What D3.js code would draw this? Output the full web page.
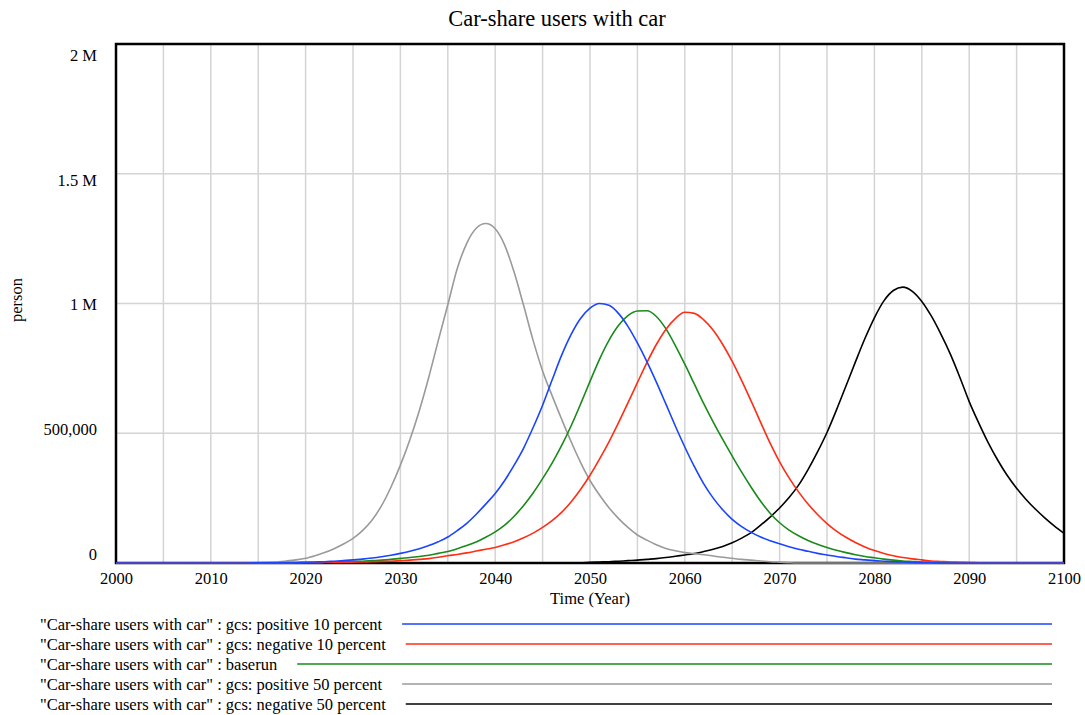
<!DOCTYPE html>
<html>
<head>
  <meta charset="utf-8" />
  <title>Car-share users with car</title>
  <script src="https://d3js.org/d3.v7.min.js"></script>
  <style>
    body { margin: 0; background: #fff; }
    svg text { font-family: "Liberation Serif", "Times New Roman", serif; fill: #000; }
  </style>
</head>
<body>
  <div id="chart"></div>

  <script>
    // years on the time axis (one value per year)
    const years = d3.range(2000, 2101);

    // values in thousand persons, 2000 .. 2100
    const positive10 = [
      0,0,0,0,0,0,0,0,0,0,
      0,0,0,0,0,1,1,1,2,2,
      3,4,5,7,9,12,15,19,24,30,
      37,45,55,67,82,100,125,153,188,227,
      268,318,377,443,522,608,705,800,880,942,
      982,1000,993,962,912,848,776,697,613,528,
      447,372,305,250,205,168,140,118,100,86,
      74,63,53,45,37,31,25,20,15,12,
      9,7,5,4,2,1,1,0,0,0,
      0,0,0,0,0,0,0,0,0,0,0
    ];
    const negative10 = [
      0,0,0,0,0,0,0,0,0,0,
      0,0,0,0,0,0,0,0,0,1,
      1,1,2,2,3,3,4,5,6,7,
      9,11,14,17,22,28,33,39,46,53,
      60,70,82,97,115,137,163,195,235,283,
      338,400,467,540,617,695,772,842,900,942,
      966,962,937,897,842,777,703,624,542,462,
      390,328,274,227,187,152,123,99,79,62,
      48,37,28,21,16,12,8,6,4,3,
      2,1,0,0,0,0,0,0,0,0,0
    ];
    const baserun = [
      0,0,0,0,0,0,0,0,0,0,
      0,0,0,0,0,0,0,0,1,1,
      2,2,3,4,5,6,7,9,11,14,
      18,21,25,30,37,44,55,67,81,99,
      120,146,180,222,270,325,385,452,528,612,
      700,785,858,915,953,971,972,950,903,838,
      766,690,614,543,476,412,350,292,238,192,
      155,127,105,87,72,60,49,40,32,25,
      20,15,11,8,6,4,3,2,1,1,
      0,0,0,0,0,0,0,0,0,0,0
    ];
    const positive50 = [
      0,0,0,0,0,0,0,0,0,0,
      0,0,0,0,0,1,3,5,8,12,
      18,28,40,55,73,95,125,165,220,292,
      377,475,588,717,858,995,1135,1232,1290,1308,
      1288,1225,1120,992,858,740,645,555,468,388,
      318,262,213,172,137,108,88,70,56,47,
      40,36,32,27,22,18,14,11,8,5,
      3,1,0,0,0,0,0,0,0,0,
      0,0,0,0,0,0,0,0,0,0,
      0,0,0,0,0,0,0,0,0,0,0
    ];
    const negative50 = [
      0,0,0,0,0,0,0,0,0,0,
      0,0,0,0,0,0,0,0,0,0,
      0,0,0,0,0,0,0,0,0,0,
      0,0,0,0,0,0,0,0,0,0,
      0,0,0,0,0,0,0,1,1,1,
      3,4,5,7,9,11,14,17,21,26,
      31,36,44,53,64,78,96,117,146,177,
      212,252,300,360,428,503,590,682,775,865,
      945,1010,1050,1063,1047,1008,952,883,806,717,
      622,540,464,397,338,288,245,207,173,142,114
    ];

    const seriesNames = [
      '"Car-share users with car" : gcs: positive 10 percent',
      '"Car-share users with car" : gcs: negative 10 percent',
      '"Car-share users with car" : baserun',
      '"Car-share users with car" : gcs: positive 50 percent',
      '"Car-share users with car" : gcs: negative 50 percent'
    ];
    const seriesValues = [positive10, negative10, baserun, positive50, negative50];
    const seriesColors = ["#1a44ff", "#ff2d14", "#1a8a1a", "#9a9a9a", "#000000"];

    const yTicks = [0, 500000, 1000000, 1500000, 2000000];
    const yTickLabels = ["0", "500,000", "1 M", "1.5 M", "2 M"];
    const xTicks = [2000, 2010, 2020, 2030, 2040, 2050, 2060, 2070, 2080, 2090, 2100];
    const xGrid = d3.range(2005, 2100, 5);

    const width = 1085;
    const height = 715;
    const plotLeft = 116, plotRight = 1064, plotTop = 44, plotBottom = 563;

    const svg = d3.select("#chart").append("svg")
      .attr("width", width)
      .attr("height", height)
      .attr("viewBox", [0, 0, width, height]);

    svg.append("rect").attr("width", width).attr("height", height).attr("fill", "#fff");

    const x = d3.scaleLinear().domain([2000, 2100]).range([plotLeft, plotRight]);
    const y = d3.scaleLinear().domain([0, 2000000]).range([plotBottom, plotTop]);
    // vensim spreads the y labels a little tighter than the grid
    const yLab = d3.scaleLinear().domain([0, 2000000]).range([554, 55]);

    // grid
    svg.append("g")
      .selectAll("line")
      .data(xGrid)
      .join("line")
      .attr("x1", d => x(d)).attr("x2", d => x(d))
      .attr("y1", plotTop).attr("y2", plotBottom)
      .attr("stroke", "#d4d4d4").attr("stroke-width", 1.5);

    svg.append("g")
      .selectAll("line")
      .data(yTicks.slice(1, -1))
      .join("line")
      .attr("x1", plotLeft).attr("x2", plotRight)
      .attr("y1", d => y(d)).attr("y2", d => y(d))
      .attr("stroke", "#d4d4d4").attr("stroke-width", 1.5);

    // frame
    svg.append("rect")
      .attr("x", plotLeft).attr("y", plotTop)
      .attr("width", plotRight - plotLeft).attr("height", plotBottom - plotTop)
      .attr("fill", "none").attr("stroke", "#000").attr("stroke-width", 2.5);

    // axes (labels only)
    const yAxis = svg.append("g")
      .attr("transform", "translate(97,0)")
      .call(d3.axisLeft(yLab).tickValues(yTicks)
        .tickFormat((d, i) => yTickLabels[i]).tickSize(0).tickPadding(0));
    yAxis.select(".domain").remove();

    const xAxis = svg.append("g")
      .attr("transform", `translate(0,${plotBottom})`)
      .call(d3.axisBottom(x).tickValues(xTicks).tickFormat(d3.format("d"))
        .tickSize(0).tickPadding(9));
    xAxis.select(".domain").remove();

    svg.selectAll(".tick text")
      .style("font-family", '"Liberation Serif", serif')
      .style("font-size", "16.5px")
      .attr("fill", "#000");

    // lines
    const line = d3.line()
      .x((d, i) => x(years[i]))
      .y(d => y(d * 1000))
      .curve(d3.curveMonotoneX);

    const drawOrder = [4, 3, 2, 1, 0];
    svg.append("g")
      .selectAll("path")
      .data(drawOrder)
      .join("path")
      .attr("d", k => line(seriesValues[k]))
      .attr("fill", "none")
      .attr("stroke", k => seriesColors[k])
      .attr("stroke-width", 1.6);

    // titles
    svg.append("text")
      .attr("x", 557).attr("y", 26)
      .attr("text-anchor", "middle")
      .style("font-size", "22.5px")
      .text("Car-share users with car");

    svg.append("text")
      .attr("x", 590).attr("y", 604)
      .attr("text-anchor", "middle")
      .style("font-size", "16.5px")
      .text("Time (Year)");

    svg.append("text")
      .attr("transform", "translate(22,300) rotate(-90)")
      .attr("text-anchor", "middle")
      .style("font-size", "16.5px")
      .text("person");

    // legend
    const legend = svg.append("g");
    seriesNames.forEach((name, i) => {
      const ly = 624 + i * 20;
      const t = legend.append("text")
        .attr("x", 40).attr("y", ly + 5.5)
        .style("font-size", "16.5px")
        .text(name);
      const w = t.node().getComputedTextLength();
      legend.append("line")
        .attr("x1", 40 + w + 20).attr("x2", 1052)
        .attr("y1", ly).attr("y2", ly)
        .attr("stroke", seriesColors[i]).attr("stroke-width", 1.5);
    });
  </script>
</body>
</html>
